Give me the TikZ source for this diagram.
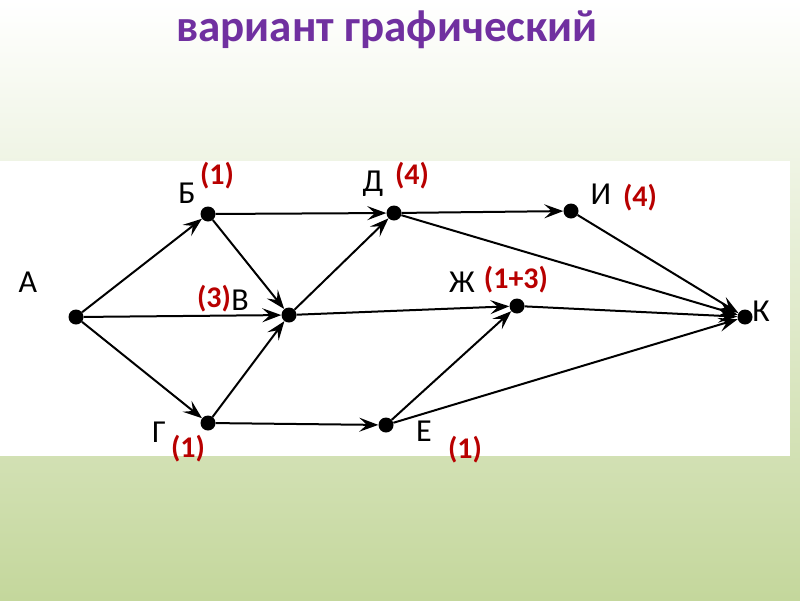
\documentclass[tikz,border=0pt]{standalone}
\usepackage{fontspec}
\setmainfont{Carlito}
\usetikzlibrary{arrows.meta}
\definecolor{titlepurple}{HTML}{7030A0}
\definecolor{labred}{HTML}{B80000}
\definecolor{bggreen}{HTML}{C4D79C}
\begin{document}
\begin{tikzpicture}[x=1pt,y=-1pt,
  vtx/.style={circle,fill=black,inner sep=0pt,minimum size=15pt},
  lbl/.style={font=\fontsize{32}{32}\selectfont,inner sep=0pt},
  cnt/.style={font=\fontsize{30}{30}\selectfont\bfseries,text=labred,inner sep=0pt},
  edge/.style={line width=2pt,-{Stealth[length=19pt,width=14pt,inset=7.5pt]}}]
\useasboundingbox (0,0) rectangle (800,600);
\shade[top color=white,bottom color=bggreen] (0,0) rectangle (800,600);
\fill[white] (0,161) rectangle (790,456);
\node[font=\fontsize{45}{45}\selectfont\bfseries,text=titlepurple] (title) at (387,30) {вариант графический};
% vertices
\node[vtx] (A) at (76,317) {};
\node[vtx] (B) at (208,214) {};
\node[vtx] (V) at (289,315) {};
\node[vtx] (G) at (208,423) {};
\node[vtx] (D) at (394,213) {};
\node[vtx] (E) at (386,425) {};
\node[vtx] (Zh) at (517,306) {};
\node[vtx] (I) at (571,211) {};
\node[vtx] (K) at (745,317) {};
% edges
\draw[edge] (A) -- (B);
\draw[edge] (A) -- (V);
\draw[edge] (A) -- (G);
\draw[edge] (B) -- (D);
\draw[edge] (B) -- (V);
\draw[edge] (G) -- (V);
\draw[edge] (G) -- (E);
\draw[edge] (V) -- (D);
\draw[edge] (V) -- (Zh);
\draw[edge] (E) -- (Zh);
\draw[edge] (E) -- (K);
\draw[edge] (D) -- (I);
\draw[edge] (D) -- (K);
\draw[edge] (I) -- (K);
\draw[edge] (Zh) -- (K);
% letter labels
\node[lbl] (lA) at (28,282) {А};
\node[lbl] (lB) at (187,193) {Б};
\node[lbl] (lV) at (240,300) {В};
\node[lbl] (lG) at (159,432) {Г};
\node[lbl] (lD) at (373,184) {Д};
\node[lbl] (lE) at (424,431) {Е};
\node[lbl] (lZh) at (462,282) {Ж};
\node[lbl] (lI) at (601,194) {И};
\node[lbl] (lK) at (761,311) {К};
% counts
\node[cnt] (cB) at (217,176) {(1)};
\node[cnt] (cV) at (214,299) {(3)};
\node[cnt] (cG) at (188,449) {(1)};
\node[cnt] (cD) at (412,176) {(4)};
\node[cnt] (cI) at (640,198) {(4)};
\node[cnt] (cZh) at (516,280) {(1+3)};
\node[cnt] (cE) at (465,450) {(1)};
\end{tikzpicture}
\end{document}
